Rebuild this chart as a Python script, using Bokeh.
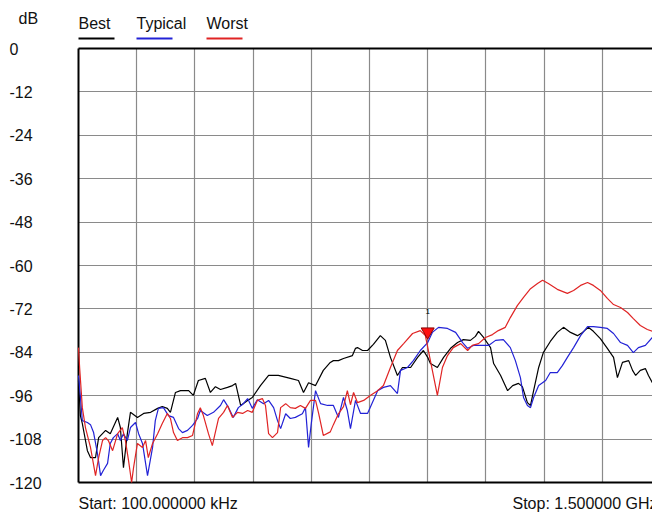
import numpy as np
from bokeh.plotting import figure
from bokeh.models import Range1d, FixedTicker, Label, BoxAnnotation, Grid, ColumnDataSource
from bokeh.transform import dodge
from bokeh.embed import file_html
from bokeh.resources import INLINE

# ---------------- data ----------------
F_START = 0.1      # MHz (100 kHz)
F_STOP = 1500.0    # MHz (1.5 GHz)
DB_TICKS = [0, -12, -24, -36, -48, -60, -72, -84, -96, -108, -120]

series_names = ["Best", "Typical", "Worst"]
series_colors = ["#000000", "#2222d6", "#e02424"]

best_f = [0.1, 5, 10, 23, 31, 44, 52, 70, 82, 101, 108, 116, 126, 134, 152, 168, 186, 204, 216, 229,
          237, 250, 263, 284, 296, 309, 327, 340, 353, 366, 384, 397, 405, 418, 436, 448, 469, 490, 515, 546,
          567, 580, 593, 611, 631, 649, 657, 670, 683, 706, 714, 719, 732, 745, 760, 778, 791, 804, 822, 835,
          856, 874, 889, 900, 907, 925, 941, 959, 977, 992, 1010, 1023, 1031, 1044, 1062, 1070, 1088, 1106, 1119, 1134,
          1144, 1157, 1165, 1173, 1186, 1198, 1216, 1234, 1250, 1268, 1286, 1299, 1314, 1327, 1345, 1363, 1379, 1389, 1402, 1418,
          1428, 1436, 1448, 1461, 1469, 1479, 1500]
best_db = [-91.8, -101.5, -103.7, -111.2, -113.1, -113.1, -107.6, -105.6, -106.5, -102.0,
           -104.8, -115.9, -106.5, -100.6, -102.0, -100.9, -100.6, -99.5, -99.0, -99.5,
           -100.6, -95.1, -94.6, -94.6, -95.9, -91.8, -91.2, -95.1, -93.5, -94.3,
           -93.7, -93.2, -92.6, -98.7, -97.3, -96.5, -93.2, -90.4, -90.4, -91.2,
           -91.8, -95.1, -92.4, -93.2, -89.0, -86.8, -86.3, -86.3, -85.7, -84.9,
           -82.9, -82.7, -83.5, -83.5, -81.8, -79.4, -80.7, -85.4, -90.4, -88.2,
           -88.2, -85.4, -83.5, -85.4, -87.1, -88.2, -85.4, -82.9, -81.3, -80.5,
           -80.7, -79.6, -78.2, -79.9, -82.7, -87.1, -90.4, -94.6, -93.2, -92.6,
           -93.5, -97.9, -98.7, -94.6, -88.2, -84.1, -81.0, -78.5, -77.1, -78.5,
           -79.4, -78.5, -77.1, -78.2, -80.2, -82.9, -85.4, -91.0, -86.8, -86.3,
           -89.0, -90.4, -89.0, -88.5, -90.4, -92.4, -93.5]

typ_f = [0.1, 3, 10, 23, 31, 39, 49, 57, 64, 75, 82, 90, 101, 108, 116, 126, 134, 147, 155, 165,
         178, 191, 198, 206, 219, 232, 245, 258, 268, 281, 294, 307, 314, 332, 348, 366, 374, 387, 399, 412,
         425, 436, 448, 461, 477, 490, 503, 513, 521, 534, 546, 559, 577, 585, 593, 600, 611, 624, 642, 657,
         670, 683, 693, 701, 714, 727, 745, 771, 786, 804, 822, 830, 848, 863, 881, 900, 912, 928, 951, 972,
         990, 1003, 1018, 1044, 1057, 1075, 1095, 1113, 1126, 1139, 1147, 1157, 1165, 1173, 1186, 1204, 1216, 1234, 1247, 1260,
         1276, 1294, 1312, 1327, 1345, 1363, 1379, 1397, 1415, 1430, 1443, 1461, 1479, 1500]
typ_db = [-90.4, -93.7, -102.9, -103.4, -104.0, -106.2, -112.0, -118.1, -116.7, -114.7,
          -109.2, -107.6, -106.5, -108.4, -106.5, -108.4, -104.8, -103.4, -106.5, -109.2,
          -118.1, -110.3, -102.9, -99.5, -99.3, -101.5, -102.0, -105.1, -106.2, -105.6,
          -104.2, -102.3, -100.1, -101.5, -100.6, -98.7, -97.1, -99.3, -102.0, -99.3,
          -98.2, -96.8, -99.5, -97.1, -98.2, -97.3, -99.3, -102.9, -105.1, -101.0,
          -102.3, -102.0, -101.0, -99.3, -110.3, -103.7, -94.6, -98.2, -98.7, -98.7,
          -102.0, -96.5, -100.1, -105.1, -97.3, -100.9, -100.9, -94.6, -93.7, -93.2,
          -95.4, -89.0, -88.2, -86.3, -83.5, -81.3, -78.5, -77.1, -77.4, -78.5,
          -81.3, -82.9, -82.1, -82.1, -82.1, -80.7, -80.5, -82.7, -86.3, -91.0,
          -96.5, -98.7, -99.3, -96.5, -93.2, -91.8, -89.6, -89.6, -87.7, -85.4,
          -82.7, -79.4, -76.9, -76.9, -77.1, -77.4, -78.8, -81.3, -82.1, -84.1,
          -82.7, -82.1, -79.9, -79.0]

worst_f = [0.1, 3, 10, 18, 31, 44, 52, 62, 70, 77, 88, 101, 113, 121, 129, 137, 142, 152, 165, 173,
           180, 191, 204, 216, 229, 237, 245, 255, 268, 281, 294, 307, 314, 322, 335, 345, 351, 361, 374, 384,
           397, 410, 423, 436, 448, 461, 474, 482, 490, 500, 513, 521, 534, 546, 559, 572, 585, 598, 611, 619,
           631, 649, 657, 670, 683, 693, 701, 709, 719, 735, 753, 771, 786, 804, 822, 838, 861, 881, 894, 907,
           925, 938, 951, 966, 985, 1003, 1015, 1031, 1049, 1067, 1082, 1100, 1113, 1131, 1147, 1165, 1183, 1196, 1211, 1234,
           1260, 1276, 1294, 1312, 1327, 1345, 1363, 1379, 1397, 1415, 1430, 1448, 1466, 1479, 1500]
worst_db = [-82.7, -88.2, -99.3, -104.8, -110.3, -118.1, -113.1, -108.4, -107.6, -108.4,
            -111.2, -106.5, -104.8, -108.4, -113.9, -120.0, -115.9, -109.2, -110.3, -108.4,
            -113.1, -109.2, -106.5, -103.7, -100.9, -102.3, -106.2, -108.4, -107.6, -107.6,
            -107.0, -100.9, -99.3, -101.5, -106.5, -109.8, -107.0, -102.3, -100.6, -98.7,
            -102.0, -100.6, -100.9, -100.1, -100.6, -97.3, -96.8, -98.7, -106.5, -107.6,
            -106.2, -99.3, -98.2, -99.3, -99.5, -98.7, -99.5, -97.3, -97.3, -100.9,
            -107.0, -106.0, -104.0, -101.0, -99.0, -94.6, -98.5, -95.1, -97.9, -97.3,
            -95.9, -94.6, -93.2, -88.2, -83.5, -81.6, -78.8, -78.0, -79.4, -86.3,
            -95.9, -88.2, -84.9, -82.7, -81.6, -83.5, -82.1, -81.6, -79.9, -79.1,
            -78.0, -77.1, -74.4, -71.1, -68.8, -66.4, -65.0, -64.1, -65.0, -66.6,
            -67.7, -66.9, -65.5, -64.7, -65.5, -66.9, -69.1, -70.8, -71.6, -73.0,
            -74.7, -76.6, -77.7, -78.2, -79.0]

marker_f = [900]
marker_db = [-80.5]
marker_label = ["1"]

# ---------------- layout ----------------
FONT = "Liberation Sans"
FS = "16px"
TXT = "#111111"
W, H = 652, 513
CL, CT, CB = 78, 48, 31          # chart box offsets inside the canvas (px)
CW, CH = 582, 434                # chart box size for the full span (px)
sx = (F_STOP - F_START) / CW
sy = (DB_TICKS[0] - DB_TICKS[-1]) / CH
x_lo, x_hi = F_START - CL * sx, F_START + (W - CL) * sx
y_lo, y_hi = DB_TICKS[-1] - CB * sy, DB_TICKS[0] + CT * sy

p = figure(width=W, height=H, output_backend="svg", toolbar_location=None,
           x_range=Range1d(x_lo, x_hi), y_range=Range1d(y_lo, y_hi),
           min_border=0, background_fill_color="white", border_fill_color="white")
p.outline_line_color = None
p.xaxis.visible = False
p.yaxis.visible = False
p.xgrid.visible = False
p.ygrid.visible = False

x_grid = [F_START + k * (F_STOP - F_START) / 10 for k in range(11)]
GRID = "#8a8a8a"
p.add_layout(Grid(dimension=0, ticker=FixedTicker(ticks=x_grid[1:]),
                  cross_bounds=(DB_TICKS[-1], DB_TICKS[0]),
                  grid_line_color=GRID, grid_line_width=1.2))
p.add_layout(Grid(dimension=1, ticker=FixedTicker(ticks=DB_TICKS[1:-1]),
                  cross_bounds=(F_START, F_STOP),
                  grid_line_color=GRID, grid_line_width=1.2))
# chart border (left, top, bottom)
p.add_layout(Grid(dimension=0, ticker=FixedTicker(ticks=[F_START]),
                  cross_bounds=(DB_TICKS[-1], DB_TICKS[0]),
                  grid_line_color="black", grid_line_width=2))
p.add_layout(Grid(dimension=1, ticker=FixedTicker(ticks=[DB_TICKS[0], DB_TICKS[-1]]),
                  cross_bounds=(F_START, F_STOP),
                  grid_line_color="black", grid_line_width=2))

# traces
for f, d, c in [(best_f, best_db, series_colors[0]), (typ_f, typ_db, series_colors[1]),
                (worst_f, worst_db, series_colors[2])]:
    p.line(f, d, line_color=c, line_width=1.2)

# marker
msrc = ColumnDataSource(dict(f=marker_f, db=marker_db))
p.scatter("f", dodge("db", 2.2, range=p.y_range), source=msrc, marker="inverted_triangle",
          size=13, fill_color="#ff1010", line_color="#8a0000", line_width=1)
p.add_layout(Label(x=marker_f[0], y=marker_db[0], y_offset=28, text=marker_label[0],
                   text_font=FONT, text_font_size="8px", text_align="center",
                   text_baseline="middle", text_color="black"))

# y tick labels
for t in DB_TICKS:
    p.add_layout(Label(x=9, y=t, x_units="canvas", y_units="data", text=str(t),
                       text_font=FONT, text_font_size=FS, text_align="left",
                       text_baseline="middle", text_color=TXT))
p.add_layout(Label(x=18, y=18, x_units="canvas", y_units="canvas", text="dB",
                   text_font=FONT, text_font_size=FS, text_align="left",
                   text_baseline="middle", text_color=TXT))

# legend
leg_x = [78, 136, 206]
for name, c, lx in zip(series_names, series_colors, leg_x):
    p.add_layout(Label(x=lx, y=23, x_units="canvas", y_units="canvas", text=name,
                       text_font=FONT, text_font_size=FS, text_align="left",
                       text_baseline="middle", text_color=TXT))
    p.add_layout(BoxAnnotation(left=lx, right=lx + 36, top=37, bottom=39,
                               left_units="canvas", right_units="canvas",
                               top_units="canvas", bottom_units="canvas",
                               fill_color=c, fill_alpha=1, line_color=None))

# start / stop
p.add_layout(Label(x=78, y=503, x_units="canvas", y_units="canvas",
                   text=f"Start: {F_START * 1000:.6f} kHz", text_font=FONT, text_font_size=FS,
                   text_align="left", text_baseline="middle", text_color=TXT))
p.add_layout(Label(x=512, y=503, x_units="canvas", y_units="canvas",
                   text=f"Stop: {F_STOP / 1000:.6f} GHz", text_font=FONT, text_font_size=FS,
                   text_align="left", text_baseline="middle", text_color=TXT))

open("out.html", "w").write(file_html(p, INLINE))
